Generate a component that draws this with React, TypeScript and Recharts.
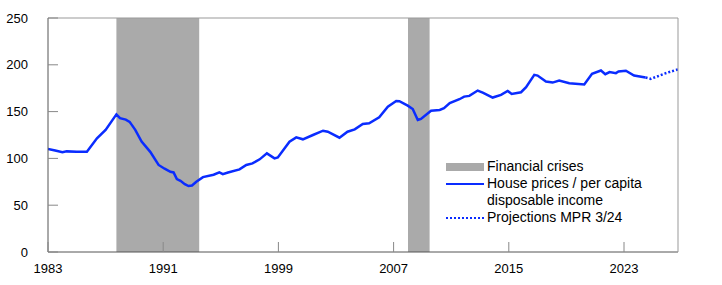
import { LineChart, Line, XAxis, YAxis, ReferenceArea, ReferenceLine } from "recharts";

// Quarterly-ish readings of house prices relative to per capita disposable income
const histYears = [
  1983.0, 1983.5, 1984.0, 1984.3, 1985.0, 1985.7, 1986.4, 1987.0, 1987.75, 1988.0,
  1988.4, 1988.67, 1989.06, 1989.5, 1990.1, 1990.68, 1991.1, 1991.5, 1991.72, 1991.95,
  1992.2, 1992.5, 1992.76, 1993.0, 1993.3, 1993.76, 1994.5, 1994.9, 1995.14, 1995.5,
  1996.3, 1996.77, 1997.2, 1997.7, 1998.2, 1998.73, 1998.96, 1999.77, 2000.24, 2000.7,
  2001.4, 2002.1, 2002.43, 2003.24, 2003.8, 2004.3, 2004.86, 2005.3, 2006.0, 2006.6,
  2007.18, 2007.4, 2007.98, 2008.33, 2008.68, 2008.9, 2009.6, 2010.2, 2010.5, 2010.9,
  2011.57, 2011.9, 2012.26, 2012.84, 2013.19, 2013.88, 2014.46, 2014.92, 2015.2, 2015.85,
  2016.2, 2016.77, 2017.0, 2017.58, 2018.04, 2018.5, 2019.2, 2020.24, 2020.78, 2021.4,
  2021.7, 2022.0, 2022.44, 2022.62, 2023.13, 2023.7, 2024.5,
];
const histValues = [
  110, 108.5, 106.5, 107.5, 107, 107, 121.5, 130.5, 147, 143,
  141.5, 139, 130.5, 118, 107, 93, 89, 85.7, 85, 78,
  76, 72.5, 70.5, 71, 75, 80, 82.5, 85, 83.2, 85,
  88.3, 93, 94.7, 99, 105.4, 100, 101, 117.8, 122.5, 120.4,
  125, 129.6, 128.5, 122.1, 128.5, 131, 136.8, 137.5, 144, 155.3,
  161.4, 161.1, 156.4, 152.8, 141, 142.1, 151, 151.8, 153.6, 159,
  163.2, 166, 166.8, 172.5, 170.3, 165, 167.8, 172.1, 168.9, 170.7,
  176, 189.3, 188.5, 182.1, 181, 183.2, 180.4, 178.9, 190.3, 193.9,
  190, 192.2, 191.1, 192.8, 193.6, 188.5, 186.4,
];

const projYears = [2024.5, 2024.86, 2025.3, 2025.8, 2026.3, 2026.75];
const projValues = [186.4, 185, 187.5, 190.5, 193, 195];

const crisisStart = [1987.75, 2008.0];
const crisisEnd = [1993.5, 2009.5];

const xTicks = [1983, 1991, 1999, 2007, 2015, 2023];
const yTicks = [0, 50, 100, 150, 200, 250];

const histData = histYears.map((x, i) => ({ x, value: histValues[i] }));
const projData = projYears.map((x, i) => ({ x, value: projValues[i] }));

const FONT = '"Liberation Sans", Arial, Helvetica, sans-serif';
const BLUE = "#0a2cff";
const GREY = "#aaaaaa";

function LeftTick(props: any) {
  const { x, y, payload } = props;
  return (
    <g>
      <line x1={x} x2={x + 10} y1={y} y2={y} stroke="#888" />
      <text x={x - 20} y={y + 4.5} textAnchor="end" fontSize={13} fill="#000" fontFamily={FONT}>
        {payload.value}
      </text>
    </g>
  );
}

function RightTick(props: any) {
  const { x, y, payload } = props;
  return (
    <g>
      <line x1={x - 10} x2={x} y1={y} y2={y} stroke="#888" />
      <text x={x + 19} y={y + 4.5} textAnchor="start" fontSize={13} fill="#000" fontFamily={FONT}>
        {payload.value}
      </text>
    </g>
  );
}

function BottomTick(props: any) {
  const { x, y, payload } = props;
  return (
    <g>
      <line x1={x} x2={x} y1={y} y2={y - 10} stroke="#888" />
      <text x={x} y={y + 21} textAnchor="middle" fontSize={13} fill="#000" fontFamily={FONT}>
        {payload.value}
      </text>
    </g>
  );
}

function LegendBox() {
  const row = { display: "flex", alignItems: "flex-start" } as const;
  const swatch = { width: 38, height: 17, display: "flex", alignItems: "center", marginRight: 3 } as const;
  return (
    <div
      style={{
        position: "absolute",
        left: 446,
        top: 158,
        fontFamily: FONT,
        fontSize: 14,
        lineHeight: "17px",
        color: "#000",
        whiteSpace: "nowrap",
      }}
    >
      <div style={row}>
        <div style={swatch}>
          <div style={{ width: 38, height: 8, background: GREY }} />
        </div>
        <span>Financial crises</span>
      </div>
      <div style={row}>
        <div style={swatch}>
          <div style={{ width: 38, borderTop: `2.5px solid ${BLUE}` }} />
        </div>
        <span>
          House prices / per capita
          <br />
          disposable income
        </span>
      </div>
      <div style={row}>
        <div style={swatch}>
          <div style={{ width: 38, borderTop: `2.5px dotted ${BLUE}` }} />
        </div>
        <span>Projections MPR 3/24</span>
      </div>
    </div>
  );
}

export default function App() {
  return (
    <div style={{ position: "absolute", left: 0, top: 0, width: 722, height: 285, background: "#fff" }}>
      <LineChart width={722} height={285} margin={{ top: 18, right: 0, bottom: 0, left: 0 }}>
        <XAxis
          dataKey="x"
          type="number"
          domain={[1983, 2026.75]}
          ticks={xTicks}
          allowDataOverflow
          height={33}
          tickSize={0}
          tickMargin={0}
          tick={<BottomTick />}
          axisLine={{ stroke: "#555" }}
        />
        <YAxis
          yAxisId="left"
          orientation="left"
          domain={[0, 250]}
          ticks={yTicks}
          width={48}
          tickSize={0}
          tickMargin={0}
          tick={<LeftTick />}
          axisLine={{ stroke: "#555" }}
        />
        <YAxis
          yAxisId="right"
          orientation="right"
          domain={[0, 250]}
          ticks={yTicks}
          width={44}
          tickSize={0}
          tickMargin={0}
          tick={<RightTick />}
          axisLine={{ stroke: "#999" }}
        />
        {crisisStart.map((s, i) => (
          <ReferenceArea
            key={s}
            yAxisId="left"
            x1={s}
            x2={crisisEnd[i]}
            y1={0}
            y2={250}
            fill={GREY}
            fillOpacity={1}
            stroke="none"
          />
        ))}
        <ReferenceLine yAxisId="left" y={250} stroke="#999" />
        <Line
          yAxisId="left"
          data={histData}
          dataKey="value"
          type="linear"
          stroke={BLUE}
          strokeWidth={2.5}
          dot={false}
          isAnimationActive={false}
        />
        <Line
          yAxisId="left"
          data={projData}
          dataKey="value"
          type="linear"
          stroke={BLUE}
          strokeWidth={2.5}
          strokeDasharray="2 2"
          dot={false}
          isAnimationActive={false}
        />
      </LineChart>
      <LegendBox />
    </div>
  );
}
